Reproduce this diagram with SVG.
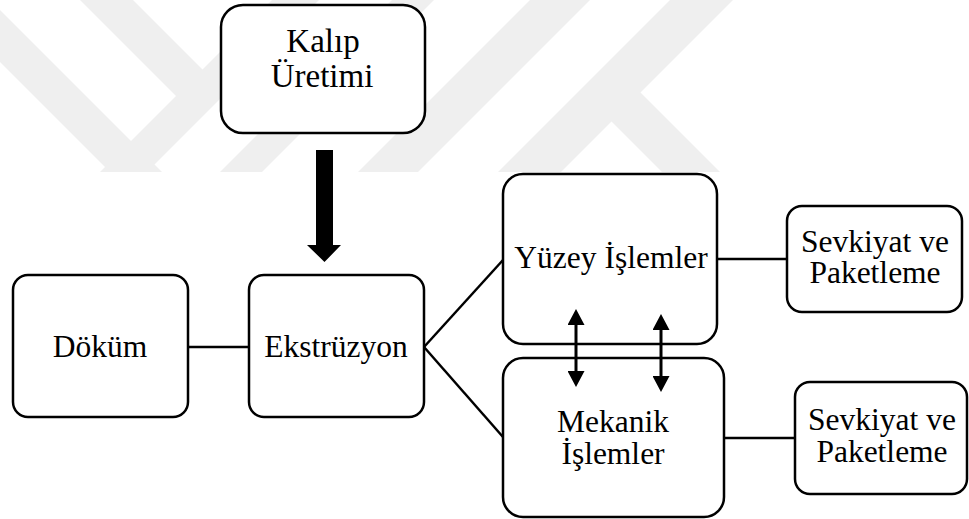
<svg xmlns="http://www.w3.org/2000/svg" width="969" height="519" viewBox="0 0 969 519">
  <style>
    .box { fill: #ffffff; stroke: #000000; stroke-width: 2.5; }
    .lbl { font-family: 'Liberation Serif', 'Times New Roman', serif; font-size: 31.5px; fill: #000000; text-anchor: middle; }
    .big { font-size: 33px; }
    .link { fill: none; stroke: #000000; stroke-width: 2.5; }
    .shaft { fill: none; stroke: #000000; stroke-width: 3; }
    .wm { fill: #efefef; }
  </style>
  <defs>
    <marker id="head" markerUnits="userSpaceOnUse" markerWidth="16" markerHeight="17" refX="6" refY="8.5" orient="auto-start-reverse">
      <path d="M0,0 L16,8.5 L0,17 z" fill="#000000"/>
    </marker>
    <clipPath id="wmClip">
      <rect x="0" y="0" width="969" height="172"/>
    </clipPath>
  </defs>

  <rect x="0" y="0" width="969" height="519" fill="#ffffff"/>

  <!-- faint background watermark bands -->
  <g id="watermark" clip-path="url(#wmClip)">
    <polygon class="wm" points="-20,-10 200,210 148,210 -20,42"/>
    <polygon class="wm" points="282,-10 329,-10 109,210 62,210"/>
    <polygon class="wm" points="70,-10 123,-10 214,81 187.5,107.5"/>
    <polygon class="wm" points="402,-10 444,-10 224,210 182,210"/>
    <polygon class="wm" points="540,-10 600,-10 380,210 320,210"/>
    <polygon class="wm" points="680,-10 743,-10 523,210 460,210"/>
    <polygon class="wm" points="624,76 758,210 700,210 595,105"/>
  </g>

  <!-- connectors running between boxes -->
  <g id="connectors">
    <polygon points="316,150 333,150 333,245 341,245 324.5,262 307,245 316,245" fill="#000000"/>
    <line class="link" x1="188" y1="347" x2="249" y2="347"/>
    <line class="link" x1="424" y1="347" x2="503" y2="260"/>
    <line class="link" x1="424" y1="347" x2="503" y2="437"/>
    <line class="link" x1="717" y1="259" x2="787" y2="259"/>
    <line class="link" x1="724" y1="438" x2="795" y2="438"/>
  </g>

  <g id="kalip-uretimi">
    <rect class="box" x="221" y="5" width="204" height="128" rx="22" ry="22"/>
    <text class="lbl big" x="323" y="52">Kalıp</text>
    <text class="lbl big" x="322" y="87">Üretimi</text>
  </g>

  <g id="dokum">
    <rect class="box" x="13" y="275" width="175" height="142" rx="15" ry="15"/>
    <text class="lbl" x="100" y="357">Döküm</text>
  </g>

  <g id="ekstruzyon">
    <rect class="box" x="249" y="275" width="175" height="142" rx="15" ry="15"/>
    <text class="lbl" x="336" y="357">Ekstrüzyon</text>
  </g>

  <g id="yuzey-islemler">
    <rect class="box" x="503" y="174" width="214" height="170" rx="20" ry="20"/>
    <text class="lbl" x="611" y="268">Yüzey İşlemler</text>
  </g>

  <g id="mekanik-islemler">
    <rect class="box" x="503" y="358" width="221" height="159" rx="20" ry="20"/>
    <text class="lbl" x="613" y="432">Mekanik</text>
    <text class="lbl" x="613" y="464">İşlemler</text>
  </g>

  <g id="sevkiyat-1">
    <rect class="box" x="787" y="206" width="175" height="106" rx="15" ry="15"/>
    <text class="lbl" x="875" y="252">Sevkiyat ve</text>
    <text class="lbl" x="875" y="283">Paketleme</text>
  </g>

  <g id="sevkiyat-2">
    <rect class="box" x="795" y="382" width="172" height="112" rx="15" ry="15"/>
    <text class="lbl" x="882" y="430">Sevkiyat ve</text>
    <text class="lbl" x="882" y="462">Paketleme</text>
  </g>

  <!-- two-way links drawn over the process boxes -->
  <g id="connectors-two-way">
    <line class="shaft" x1="576" y1="319" x2="576" y2="377" marker-start="url(#head)" marker-end="url(#head)"/>
    <line class="shaft" x1="661" y1="324" x2="661" y2="382" marker-start="url(#head)" marker-end="url(#head)"/>
  </g>
</svg>
